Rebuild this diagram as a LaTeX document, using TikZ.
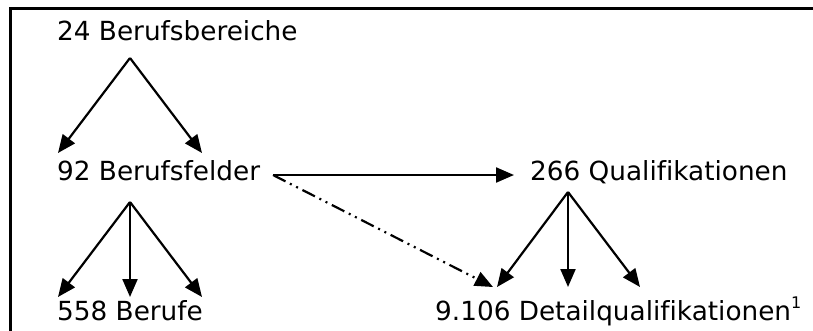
\documentclass[tikz,border=0pt]{standalone}
\usepackage{fontspec}
\setmainfont[Ligatures=NoCommon]{DejaVu Sans}
\usetikzlibrary{arrows.meta}
\begin{document}
\begin{tikzpicture}[x=1pt,y=-1pt,
  lbl/.style={anchor=base west,inner sep=0pt,font=\fontsize{26.3}{30}\selectfont},
  conn/.style={line width=2.2pt,-{Triangle[length=18pt,width=15pt]}},
  frameline/.style={line width=3pt}]
\useasboundingbox (0,0) rectangle (813,330);
\draw[frameline] (10,331) -- (10,8) -- (814,8);
\node[lbl] (bb) at (57,40) {24 Berufsbereiche};
\node[lbl] (bf) at (57,180) {92 Berufsfelder};
\node[lbl] (b) at (57,320) {558 Berufe};
\node[lbl] (q) at (530,180) {266 Qualifikationen};
\node[lbl] (dq) at (435,320) {9.106 Detailqualifikationen\raisebox{11.5pt}{\fontsize{16}{16}\selectfont 1}};
\coordinate (a1) at (130,58);
\coordinate (a1l) at (58,153);
\coordinate (a1r) at (202,153);
\coordinate (a2) at (130,202);
\coordinate (a2l) at (58,297);
\coordinate (a2m) at (130,297);
\coordinate (a2r) at (202,297);
\coordinate (h0) at (273,175);
\coordinate (h1) at (514,175);
\coordinate (a3) at (568,192);
\coordinate (a3l) at (497,287);
\coordinate (a3m) at (568,287);
\coordinate (a3r) at (640,287);
\coordinate (d1) at (493,287);
\draw[conn] (a1) -- (a1l);
\draw[conn] (a1) -- (a1r);
\draw[conn] (a2) -- (a2l);
\draw[conn] (a2) -- (a2m);
\draw[conn] (a2) -- (a2r);
\draw[conn] (h0) -- (h1);
\draw[conn] (a3) -- (a3l);
\draw[conn] (a3) -- (a3m);
\draw[conn] (a3) -- (a3r);
\draw[conn,dash pattern=on 14pt off 5pt on 2pt off 5pt on 2pt off 5pt] (h0) -- (d1);
\end{tikzpicture}
\end{document}
